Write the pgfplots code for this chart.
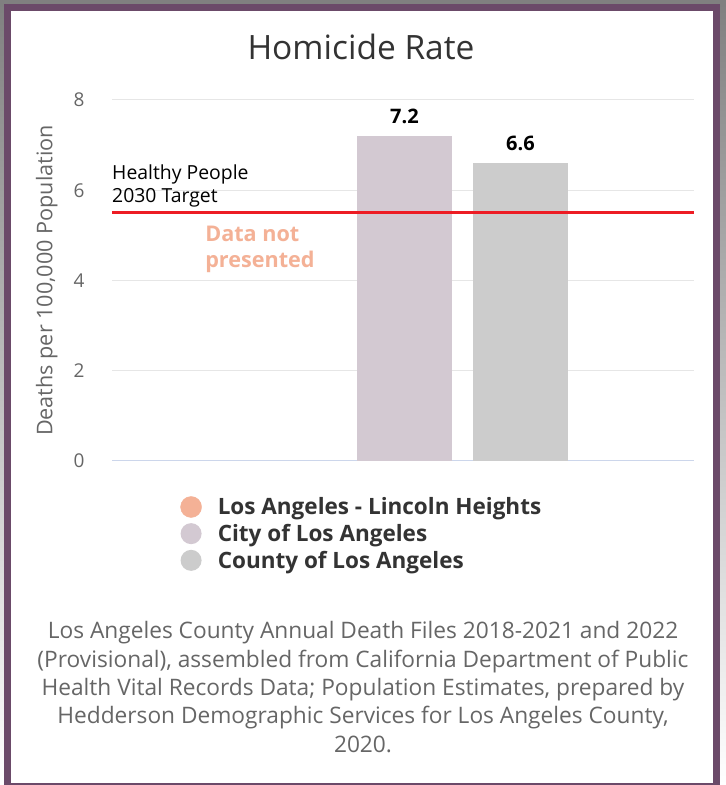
\documentclass[border=0pt]{standalone}
\usepackage{pgfplots}
\pgfplotsset{compat=1.18}
\usepackage{fontspec}
\setmainfont{Open Sans}
\definecolor{frame}{HTML}{6B4A69}
\definecolor{salmon}{HTML}{F4B196}
\definecolor{cityc}{HTML}{D3C9D2}
\definecolor{countyc}{HTML}{CCCCCC}
\definecolor{tred}{HTML}{ED1C24}
\definecolor{gridc}{HTML}{E6E6E6}
\definecolor{axisc}{HTML}{CCD6EB}
\definecolor{tickc}{HTML}{666666}
\definecolor{titlec}{HTML}{333333}
\definecolor{shade}{HTML}{DCD6DC}
\begin{document}
\begin{tikzpicture}
\useasboundingbox (0pt,0pt) rectangle (726pt,785pt);
\fill[shade] (0pt,0pt) rectangle (726pt,785pt);
\fill[frame] (4pt,-10pt) rectangle (720pt,781pt);
\fill[white] (11pt,2pt) rectangle (713pt,774pt);
\node[text=titlec, font=\fontsize{33.5}{40}\selectfont] at (361pt,738pt) {Homicide Rate};
\begin{axis}[
  at={(112pt,324pt)}, anchor=south west,
  width=582pt, height=361pt, scale only axis,
  xmin=-1, xmax=1, ymin=0, ymax=8,
  ytick={0,2,4,6,8}, xtick=\empty,
  /pgf/number format/assume math mode=true,
  ymajorgrids, grid style={gridc, line width=1pt},
  axis x line*=bottom, axis y line*=left,
  x axis line style={axisc, line width=1pt, -},
  y axis line style={draw=none},
  ytick style={draw=none},
  yticklabel style={text=tickc, font=\fontsize{19}{22}\selectfont, xshift=-24pt},
  ylabel={Deaths per 100,000 Population},
  every axis y label/.style={at={(axis description cs:-0.112,0.50)}, rotate=90, anchor=center, text=tickc, font=\fontsize{21.6}{24}\selectfont},
  ybar, bar width=95pt,
  nodes near coords, every node near coord/.append style={text=black, font=\bfseries\fontsize{20}{24}\selectfont, yshift=9pt},
  legend style={at={(axis description cs:0.112,-0.09)}, anchor=north west, draw=none, fill=none,
    font=\bfseries\fontsize{22.5}{27}\selectfont, text=titlec, cells={anchor=west}, row sep=4pt, column sep=14pt},
  legend cell align=left,
]
\addlegendimage{legend image code/.code={\fill[salmon] (0pt,0pt) circle (10.5pt);}}
\addlegendentry{Los Angeles - Lincoln Heights}
\addplot[fill=cityc, draw=none, bar shift=1.5pt, legend image code/.code={\fill[cityc] (0pt,0pt) circle (10.5pt);}] coordinates {(0,7.2)};
\addlegendentry{City of Los Angeles}
\addplot[fill=countyc, draw=none, bar shift=117.5pt, legend image code/.code={\fill[countyc] (0pt,0pt) circle (10.5pt);}] coordinates {(0,6.6)};
\addlegendentry{County of Los Angeles}
\addplot[sharp plot, tred, line width=3pt, nodes near coords={}, forget plot, mark=none] coordinates {(-1,5.5) (1,5.5)};
\node[anchor=south west, align=left, font=\fontsize{19.4}{23}\selectfont, inner sep=0pt] at (axis cs:-1,5.62) {Healthy People\\2030 Target};
\node[anchor=north west, align=left, text=salmon, font=\bfseries\fontsize{21.6}{26}\selectfont, inner sep=0pt] at (axis cs:-0.68,5.22) {Data not\\presented};
\end{axis}
\node[text=tickc, align=center, font=\fontsize{22.7}{28.3}\selectfont] at (363pt,98pt) {Los Angeles County Annual Death Files 2018-2021 and 2022\\(Provisional), assembled from California Department of Public\\Health Vital Records Data; Population Estimates, prepared by\\Hedderson Demographic Services for Los Angeles County,\\2020.};
\end{tikzpicture}
\end{document}
